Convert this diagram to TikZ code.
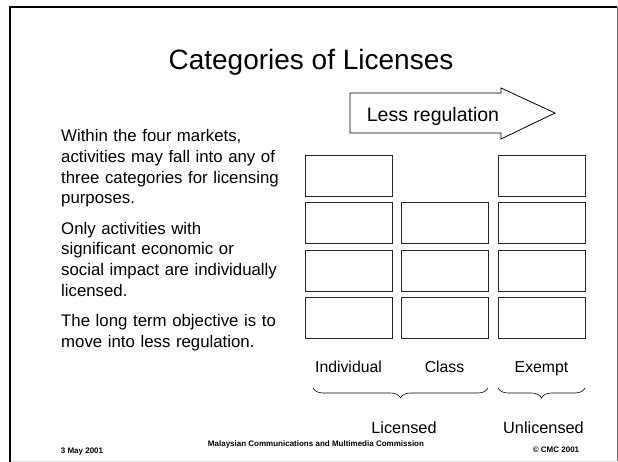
\documentclass[tikz,border=0pt]{standalone}
\usepackage{fontspec}
\setmainfont{Liberation Sans}
\usetikzlibrary{decorations.pathreplacing}

\begin{document}
\begin{tikzpicture}[x=1pt,y=-1pt,
  licbox/.style={draw=black!85,line width=0.9pt,minimum width=87pt,minimum height=41pt,inner sep=0pt},
  collabel/.style={anchor=base,inner sep=0pt,font=\fontsize{15.8}{18}\selectfont},
  catbrace/.style={decorate,decoration={brace,mirror,amplitude=10pt},line width=0.6pt},
  footer/.style={anchor=base,inner sep=0pt,font=\fontsize{8}{9}\selectfont\bfseries}]
\useasboundingbox (0,0) rectangle (618,462);

% slide frame
\draw[black!55] (617,7) -- (617,461);
\draw[black!15] (10,461) -- (617,461);
\draw[line width=2.5pt] (10,462) -- (10,7) -- (617,7);

\node[anchor=base,inner sep=0pt,font=\fontsize{28}{32}\selectfont] (title) at (311,70) {Categories of Licenses};

% arrow
\coordinate (arrtail) at (350,113);
\coordinate (arrtip) at (555,113);
\draw[line width=0.8pt] (350,93) -- (501,93) -- (501,88) -- (arrtip) -- (501,139) -- (501,133) -- (350,133) -- cycle;
\node[anchor=base,inner sep=0pt,font=\fontsize{19.5}{22}\selectfont] (lessreg) at (433,122) {Less regulation};

\node[anchor=base west,inner sep=0pt,text width=260pt,align=left,font=\fontsize{16.8}{20.6}\selectfont] (intro) at (61,142)
  {Within the four markets,\\ activities may fall into any of\\ three categories for licensing\\ purposes.\\[10pt]
   Only activities with\\ significant economic or\\ social impact are individually\\ licensed.\\[10pt]
   The long term objective is to\\ move into less regulation.};

% individual
\node[licbox] (ind1) at (348.5,175.5) {};
\node[licbox] (ind2) at (348.5,223) {};
\node[licbox] (ind3) at (348.5,270.5) {};
\node[licbox] (ind4) at (348.5,318) {};
% class
\node[licbox] (cls2) at (444.5,223) {};
\node[licbox] (cls3) at (444.5,270.5) {};
\node[licbox] (cls4) at (444.5,318) {};
% exempt
\node[licbox] (exm1) at (541.5,175.5) {};
\node[licbox] (exm2) at (541.5,223) {};
\node[licbox] (exm3) at (541.5,270.5) {};
\node[licbox] (exm4) at (541.5,318) {};

\node[collabel] (individual) at (348.5,372) {Individual};
\node[collabel] (class) at (444.5,372) {Class};
\node[collabel] (exempt) at (541.5,372) {Exempt};

\coordinate (licL) at (313,388);
\coordinate (licR) at (488,388);
\coordinate (unlL) at (498,388);
\coordinate (unlR) at (585,388);
\draw[catbrace] (licL) -- (licR);
\draw[catbrace] (unlL) -- (unlR);

\node[collabel,font=\fontsize{16.3}{18}\selectfont] (licensed) at (404,433) {Licensed};
\node[collabel,font=\fontsize{16.3}{18}\selectfont] (unlicensed) at (543.5,433) {Unlicensed};

\node[footer] (date) at (82,453) {3 May 2001};
\node[footer] (mcmc) at (316,446) {Malaysian Communications and Multimedia Commission};
\node[footer] (copy) at (556,452) {\textcopyright{} CMC 2001};
\end{tikzpicture}
\end{document}
